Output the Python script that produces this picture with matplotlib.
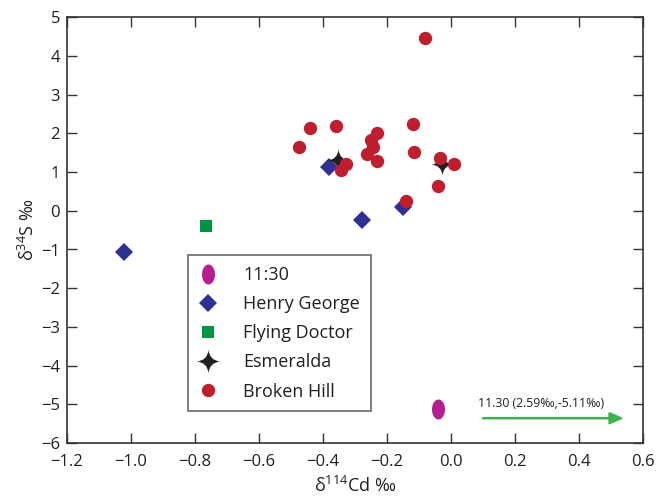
import matplotlib
matplotlib.use("Agg")
import matplotlib.pyplot as plt
from matplotlib.path import Path
from matplotlib.lines import Line2D
import numpy as np

plt.rcParams['font.family'] = ['Open Sans', 'DejaVu Sans']
plt.rcParams['mathtext.fontset'] = 'custom'
plt.rcParams['mathtext.rm'] = 'Open Sans'
plt.rcParams['mathtext.it'] = 'Open Sans:italic'
plt.rcParams['mathtext.bf'] = 'Open Sans:bold'

# ---- data ----
broken_hill_x = [-0.081, -0.441, -0.360, -0.475, -0.230, -0.251, -0.243, -0.262, -0.230,
                 -0.120, -0.116, -0.034, 0.009, -0.040, -0.141, -0.329, -0.345]
broken_hill_y = [4.46, 2.15, 2.19, 1.65, 2.00, 1.83, 1.64, 1.47, 1.28,
                 2.23, 1.53, 1.37, 1.21, 0.65, 0.26, 1.21, 1.05]
henry_george_x = [-1.021, -0.380, -0.279, -0.149]
henry_george_y = [-1.07, 1.14, -0.24, 0.09]
flying_doctor_x = [-0.766]
flying_doctor_y = [-0.38]
esmeralda_x = [-0.354, -0.029]
esmeralda_y = [1.30, 1.21]
s1130_x = [-0.040]
s1130_y = [-5.11]
arrow_start = (0.10, -5.36)
arrow_end = (0.54, -5.36)
arrow_text = "11.30 (2.59‰,-5.11‰)"

xticks = [-1.2, -1.0, -0.8, -0.6, -0.4, -0.2, 0.0, 0.2, 0.4, 0.6]
xticklabels = ['−1.2', '−1.0', '−0.8', '−0.6', '−0.4', '−0.2', '0.0', '0.2', '0.4', '0.6']
yticks = [5, 4, 3, 2, 1, 0, -1, -2, -3, -4, -5, -6]
yticklabels = ['5', '4', '3', '2', '1', '0', '−1', '−2', '−3', '−4', '−5', '−6']

# ---- colours ----
c_red = '#be1e2d'
c_blue = '#2e3192'
c_green = '#009444'
c_mag = '#b51f8f'
c_black = '#231f20'
c_arrow = '#39b54a'
c_axis = '#333333'

# ---- custom markers ----
t = np.linspace(0, 2 * np.pi, 60)
ellipse_marker = Path(np.column_stack([np.cos(t) * 0.65, np.sin(t)]), closed=True)

k = 0.08
star_verts = [(0, 1), (k, k), (1, 0), (k, -k), (0, -1), (-k, -k), (-1, 0), (-k, k), (0, 1), (0, 1)]
star_codes = [Path.MOVETO, Path.CURVE3, Path.LINETO, Path.CURVE3, Path.LINETO,
              Path.CURVE3, Path.LINETO, Path.CURVE3, Path.LINETO, Path.CLOSEPOLY]
star_marker = Path(star_verts, star_codes)

fig = plt.figure(figsize=(6.67, 4.98), dpi=100)
ax = fig.add_axes([67 / 667, 1 - 443 / 498, 576 / 667, 425.7 / 498])

ax.plot(henry_george_x, henry_george_y, linestyle='none', marker='D', markersize=8.7,
        color=c_blue, markeredgewidth=0, zorder=3)
ax.plot(flying_doctor_x, flying_doctor_y, linestyle='none', marker='s', markersize=9.1,
        color=c_green, markeredgewidth=0, zorder=3)
ax.plot(esmeralda_x, esmeralda_y, linestyle='none', marker=star_marker, markersize=16,
        color=c_black, markeredgewidth=0, zorder=4)
ax.plot(broken_hill_x, broken_hill_y, linestyle='none', marker='o', markersize=9.6,
        color=c_red, markeredgewidth=0, zorder=5)
ax.plot(s1130_x, s1130_y, linestyle='none', marker=ellipse_marker, markersize=14.4,
        color=c_mag, markeredgewidth=0, zorder=3)

ax.annotate('', xy=arrow_end, xytext=arrow_start,
            arrowprops=dict(arrowstyle='-|>,head_length=0.8,head_width=0.35',
                            color=c_arrow, lw=1.8, shrinkA=0, shrinkB=0))
ax.text(0.085, -4.98, arrow_text, fontsize=8.8, color='#231f20', ha='left', va='center')

ax.set_xlim(-1.2, 0.6)
ax.set_ylim(-6, 5)
ax.set_xticks(xticks)
ax.set_xticklabels(xticklabels)
ax.set_yticks(yticks)
ax.set_yticklabels(yticklabels)
ax.tick_params(direction='in', top=True, right=True, length=7.5, width=1.0,
               colors=c_axis, labelsize=12, labelcolor='#231f20', pad=4)
ax.tick_params(axis='x', labeltop=False, pad=8)
ax.tick_params(axis='y', labelright=False, pad=5)
for sp in ax.spines.values():
    sp.set_linewidth(1.2)
    sp.set_color(c_axis)

ax.set_xlabel('δ$^{\\mathregular{114}}$Cd ‰', fontsize=13, color='#231f20', labelpad=4)
ax.set_ylabel('δ$^{\\mathregular{34}}$S ‰', fontsize=13, color='#231f20', labelpad=2)

handles = [
    Line2D([], [], linestyle='none', marker=ellipse_marker, markersize=14.4, color=c_mag, markeredgewidth=0),
    Line2D([], [], linestyle='none', marker='D', markersize=8.7, color=c_blue, markeredgewidth=0),
    Line2D([], [], linestyle='none', marker='s', markersize=9.1, color=c_green, markeredgewidth=0),
    Line2D([], [], linestyle='none', marker=star_marker, markersize=17, color=c_black, markeredgewidth=0),
    Line2D([], [], linestyle='none', marker='o', markersize=9.6, color=c_red, markeredgewidth=0),
]
labels = ['11:30', 'Henry George', 'Flying Doctor', 'Esmeralda', 'Broken Hill']
leg = ax.legend(handles, labels, loc='upper left', bbox_to_anchor=(0.210, 0.4416),
                borderaxespad=0, fontsize=13, frameon=True, fancybox=False,
                edgecolor='#444444', borderpad=0.6, labelspacing=0.62,
                handlelength=1.0, handletextpad=1.45)
leg.get_frame().set_linewidth(1.2)
for txt in leg.get_texts():
    txt.set_color('#231f20')

fig.savefig('out.png', dpi=100)
